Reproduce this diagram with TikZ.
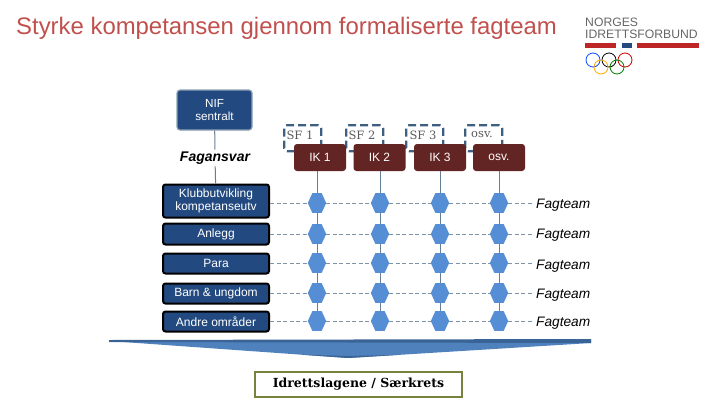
\documentclass[tikz,border=0pt]{standalone}
\usepackage{fontspec}
\setmainfont{Liberation Sans}
\newfontfamily\serifface{DejaVu Serif}
\definecolor{navybox}{HTML}{234A80}
\definecolor{slateedge}{HTML}{3F5F80}
\definecolor{wineik}{HTML}{632523}
\definecolor{hexblue}{HTML}{558ED5}
\definecolor{dashgrey}{HTML}{7E93A8}
\definecolor{oliveedge}{HTML}{76833F}
\definecolor{titlered}{HTML}{C0504D}
\definecolor{funnelblue}{HTML}{4F81BD}
\definecolor{funneldark}{HTML}{3A6496}
\usetikzlibrary{shapes.geometric}
\tikzset{
  areabox/.style = {draw = black, line width = 2pt, rounded corners = 2.5pt, fill = navybox, text = white, font = \fontsize{12}{13}\selectfont, minimum width = 106, inner sep = 0, align = center},
  ikbox/.style = {fill = wineik, text = white, rounded corners = 3pt, minimum width = 52, minimum height = 27, inner sep = 0, font = \fontsize{12}{12}\selectfont},
  sfbox/.style = {draw = slateedge, line width = 2.3pt, dash pattern = on 8pt off 4pt, rounded corners = 3pt, minimum width = 37, minimum height = 26, inner sep = 0, anchor = north west},
  sftext/.style = {font = \serifface\fontsize{11.5}{12}\selectfont, text = black!65, inner sep = 0},
  hexdot/.style = {regular polygon, regular polygon sides = 6, fill = hexblue, minimum size = 23, inner sep = 0, outer sep = 0, xscale = 0.8, transform shape},
  teamtext/.style = {font = \itshape\fontsize{13.7}{14}\selectfont, anchor = west, inner sep = 3pt},
  dashline/.style = {draw = dashgrey, dash pattern = on 4pt off 2.5pt, line width = 0.8pt},
  stemline/.style = {draw = slateedge!80, line width = 1pt}
}
\begin{document}
\begin{tikzpicture}[x = 1pt, y = -1pt]
\useasboundingbox (0, 0) rectangle (720, 405);
\node[anchor = west, inner sep = 0, font = \fontsize{23.9}{26}\selectfont, text = titlered] (title) at (16, 28){Styrke kompetansen gjennom formaliserte fagteam};
% logo
\node[anchor = west, inner sep = 0, font = \fontsize{12.2}{13}\selectfont, text = black!60] (logoa) at (585, 22){NORGES};
\node[anchor = west, inner sep = 0, font = \fontsize{12.2}{13}\selectfont, text = black!60] (logob) at (585, 34){IDRETTSFORBUND};
\fill[red!70!black!85] (585, 43) rectangle (616, 48);
\fill[navybox] (622, 43) rectangle (632, 48);
\fill[red!70!black!85] (637, 43) rectangle (699, 48);
\draw[blue!70!cyan, line width = 0.8pt] (593, 60) circle (7);
\draw[black, line width = 0.8pt] (609, 60) circle (7);
\draw[red!80!black, line width = 0.8pt] (625, 60) circle (7);
\draw[orange!70!yellow, line width = 0.8pt] (601, 67) circle (7);
\draw[green!50!black, line width = 0.8pt] (617, 67) circle (7);
% left column
\node[draw = slateedge!60, fill = navybox, line width = 1.2pt, rounded corners = 3pt, text = white, font = \fontsize{11.7}{13}\selectfont, minimum width = 75, minimum height = 40, inner sep = 0, align = center] (nif) at (214.5, 110){NIF\\sentralt};
\node[font = \bfseries\itshape\fontsize{14}{14}\selectfont, inner sep = 2pt] (fagansvar) at (215, 158){Fagansvar};
\node[areabox, minimum height = 33] (klubb) at (216, 201){Klubbutvikling\\kompetanseutv};
\node[areabox, minimum height = 21] (anlegg) at (216, 234){Anlegg};
\node[areabox, minimum height = 20] (para) at (216, 263.5){Para};
\node[areabox, minimum height = 20] (barn) at (216, 293.5){Barn \& ungdom};
\node[areabox, minimum height = 20] (andre) at (216, 321.5){Andre områder};
\draw[stemline] (nif) -- (fagansvar);
\draw[stemline] (fagansvar) -- (klubb);
% SF boxes sit behind the IK boxes
\node[sfbox] (sfa) at (283, 124){};
\node[sfbox] (sfb) at (345, 124){};
\node[sfbox] (sfc) at (405, 124){};
\node[sfbox] (sfd) at (464, 124){};
\node[sftext] (sfta) at (300, 135){SF 1};
\node[sftext] (sftb) at (362, 135){SF 2};
\node[sftext] (sftc) at (423, 135){SF 3};
\node[sftext] (sftd) at (482, 135){osv.};
\node[ikbox] (ika) at (320, 157.5){IK 1};
\node[ikbox] (ikb) at (379.5, 157.5){IK 2};
\node[ikbox] (ikc) at (440, 157.5){IK 3};
\node[ikbox] (ikd) at (499, 157.5){osv.};
% grid of fagteam
\foreach \col/\xpos in {1/317, 2/380, 3/440, 4/499}{
  \foreach \row/\ypos in {1/203, 2/234, 3/263, 4/293, 5/321}{
    \node[hexdot] (hex\col\row) at (\xpos, \ypos){};
  }
}
\node[teamtext] (teama) at (533, 205){Fagteam};
\node[teamtext] (teamb) at (533, 235){Fagteam};
\node[teamtext] (teamc) at (533, 266){Fagteam};
\node[teamtext] (teamd) at (533, 295){Fagteam};
\node[teamtext] (teame) at (533, 323){Fagteam};
\foreach \row/\area/\team in {1/klubb/teama, 2/anlegg/teamb, 3/para/teamc, 4/barn/teamd, 5/andre/teame}{
  \draw[dashline] (\area.east |- hex1\row) -- (hex1\row);
  \draw[dashline] (hex1\row) -- (hex2\row);
  \draw[dashline] (hex2\row) -- (hex3\row);
  \draw[dashline] (hex3\row) -- (hex4\row);
  \draw[dashline] (hex4\row) -- (\team.west |- hex4\row);
}
\foreach \col/\top in {1/ika, 2/ikb, 3/ikc, 4/ikd}{
  \draw[stemline] (hex\col1 |- \top.south) -- (hex\col1);
  \draw[stemline] (hex\col1) -- (hex\col2);
  \draw[stemline] (hex\col2) -- (hex\col3);
  \draw[stemline] (hex\col3) -- (hex\col4);
  \draw[stemline] (hex\col4) -- (hex\col5);
}
% funnel
\fill[funnelblue] (109, 341) -- (591, 340) -- (591, 343) -- (348, 358) -- cycle;
\fill[funneldark] (109, 340) -- (591, 339) -- (591, 343) -- (109, 342) -- cycle;
\fill[funneldark] (300, 354.6) -- (348, 358) -- (400, 354.8) -- (348, 356) -- cycle;
\node[draw = oliveedge, line width = 2pt, minimum width = 207, minimum height = 25, inner sep = 0, font = \serifface\bfseries\fontsize{12.5}{14}\selectfont] (lag) at (358.5, 384){Idrettslagene / Særkrets};
\end{tikzpicture}
\end{document}
